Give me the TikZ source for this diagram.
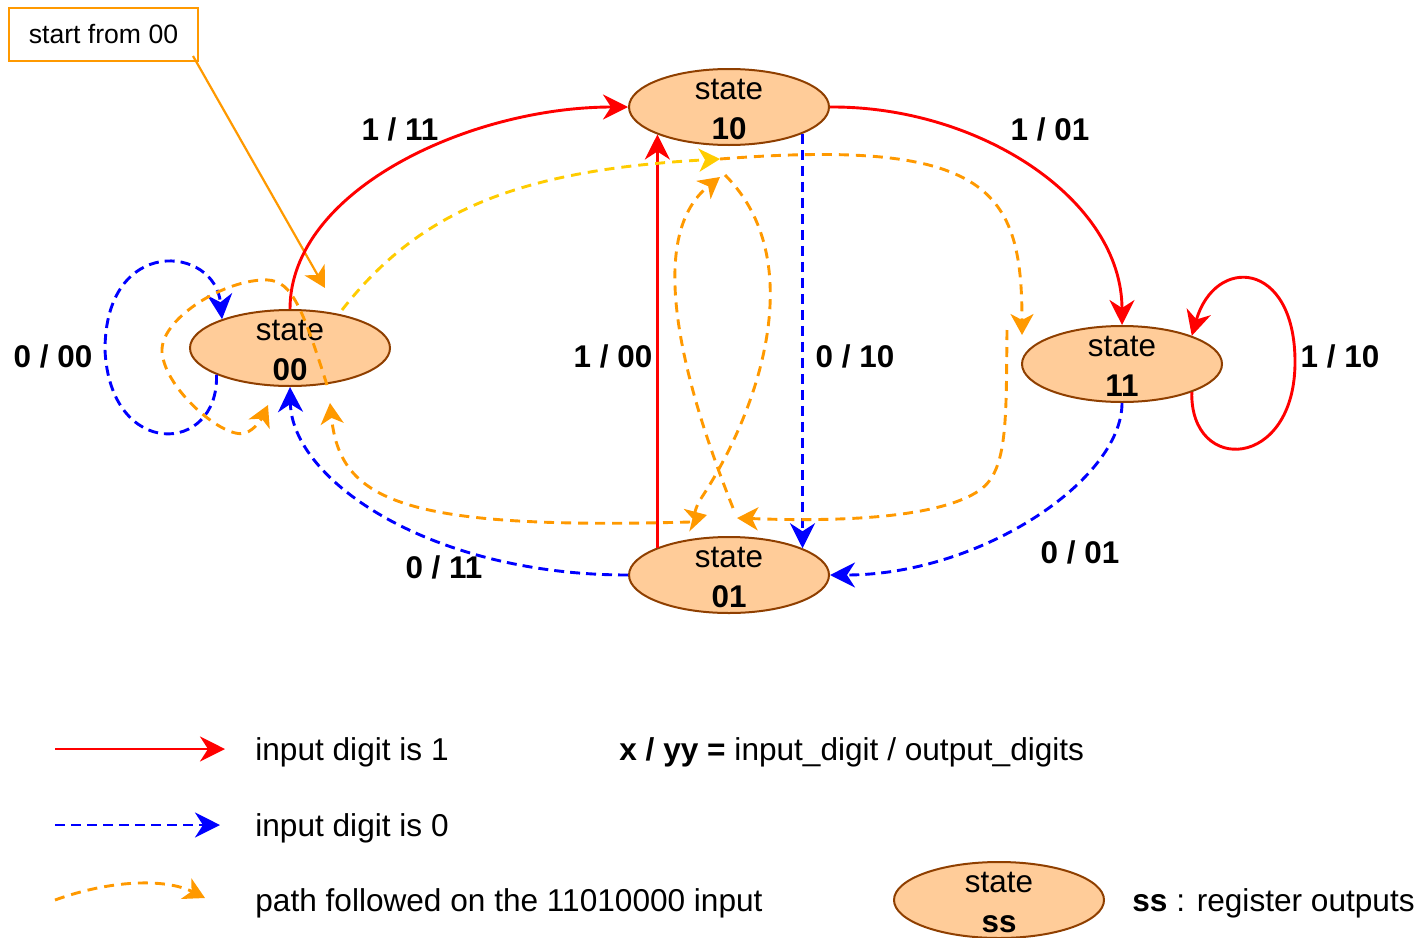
\documentclass[tikz,border=0pt]{standalone}
\usepackage{fontspec}
\setmainfont{Liberation Sans}
\usetikzlibrary{arrows.meta,shapes.geometric,calc}
\definecolor{stfill}{HTML}{FFCC99}
\definecolor{stline}{HTML}{8F3F00}
\definecolor{pathor}{HTML}{FF9900}
\definecolor{pathyel}{HTML}{FFCC00}

\begin{document}
\begin{tikzpicture}[x=0.5pt,y=-0.5pt,
  state/.style={ellipse,draw=stline,fill=stfill,line width=1pt,
    minimum width=100pt,minimum height=38pt,inner sep=0pt},
  sttext/.style={align=center,inner sep=0pt,yshift=-1pt,
    font=\fontsize{15.7}{20}\selectfont},
  lbl/.style={inner sep=0pt,font=\fontsize{15.7}{19}\selectfont\bfseries},
  legtxt/.style={anchor=base west,inner sep=0pt,
    font=\fontsize{15.8}{19}\selectfont},
  tipbig/.style={-{Stealth[length=12.5pt,width=12.5pt,inset=4pt]}},
  tipsmall/.style={-{Stealth[length=10.5pt,width=11.5pt,inset=3pt]}},
  one/.style={red,line width=1.45pt,tipbig},
  zero/.style={blue,line width=1.45pt,dash pattern=on 5pt off 3pt,tipbig},
  trace/.style={pathor,line width=1.45pt,dash pattern=on 5pt off 3.5pt,tipsmall},
  firstleg/.style={pathyel,line width=1.45pt,dash pattern=on 5pt off 3.5pt,tipsmall},
]
\useasboundingbox (0,0) rectangle (1422,937);

% states
\node[state] (s00) at (290,348) {};
\node[state] (s10) at (729,107) {};
\node[state] (s01) at (729,575) {};
\node[state] (s11) at (1122,364) {};
\node[sttext] (t00) at (s00) {state\\\textbf{00}};
\node[sttext] (t10) at (s10) {state\\\textbf{10}};
\node[sttext] (t01) at (s01) {state\\\textbf{01}};
\node[sttext] (t11) at (s11) {state\\\textbf{11}};

% initial state note
\node[draw=pathor,line width=1pt,minimum width=94.5pt,minimum height=26.5pt,
  inner sep=0pt,font=\fontsize{13.3}{16}\selectfont] (start) at (103.5,34.5) {start from 00};
\coordinate (startend) at (325,288);
\draw[pathor,line width=1.1pt,tipsmall] ($(start.south east)+(-6,-6)$) -- (startend);

% transitions on input 1
\draw[one] (s00.north) .. controls (290,190) and (470,107) .. (s10.west);
\draw[one] (s10.east) .. controls (980,106) and (1122,200) .. (s11.north);
\draw[one] (s01.159) -- (s10.201);
\draw[one] (s11.338.5) .. controls (1190,475) and (1295,470) .. (1295,362)
  .. controls (1295,260) and (1215,255) .. (s11.22);

% transitions on input 0
\draw[zero] (s10.340) -- (s01.20);
\draw[zero] (s11.south) .. controls (1122,480) and (980,575) .. (s01.east);
\draw[zero] (s01.west) .. controls (430,575) and (292,480) .. (s00.south);
\draw[zero] (s00.200.8) .. controls (219,455) and (110,460) .. (105,350)
  .. controls (105,235) and (215,245) .. (s00.157.4);

% edge labels
\node[lbl] (l1) at (400,129) {1 / 11};
\node[lbl] (l2) at (1050,129) {1 / 01};
\node[lbl] (l3) at (53,356) {0 / 00};
\node[lbl] (l4) at (613,356) {1 / 00};
\node[lbl] (l5) at (855,356) {0 / 10};
\node[lbl] (l6) at (1340,356) {1 / 10};
\node[lbl] (l7) at (444,567) {0 / 11};
\node[lbl] (l8) at (1080,552) {0 / 01};

% path taken for the input 11010000
\coordinate (a0) at (342,310);
\coordinate (a1) at (720,159);
\coordinate (a2) at (1022,335);
\coordinate (a3) at (1007,330);
\coordinate (a4) at (737,518);
\coordinate (a5) at (733,508);
\coordinate (a6) at (720,177);
\coordinate (a7) at (725,175);
\coordinate (a8) at (707,515);
\coordinate (a9) at (690,522);
\coordinate (a10) at (330,403);
\coordinate (a11) at (327,385);
\coordinate (a12) at (268,405);
\draw[firstleg] (a0) .. controls (420,210) and (520,170) .. (a1);
\draw[trace] (a1) .. controls (990,138) and (1022,190) .. (a2);
\draw[trace] (a3) .. controls (1006,420) and (1008,470) .. (980,490)
  .. controls (940,518) and (840,522) .. (a4);
\draw[trace] (a5) .. controls (690,400) and (640,240) .. (a6);
\draw[trace] (a7) .. controls (810,260) and (760,410) .. (700,500)
  .. controls (693,512) and (695,518) .. (a8);
\draw[trace] (a9) .. controls (400,530) and (340,500) .. (a10);
\draw[trace] (a11) .. controls (300,300) and (290,278) .. (262,280)
  .. controls (220,282) and (160,320) .. (162,352)
  .. controls (165,390) and (225,440) .. (245,433)
  .. controls (255,430) and (262,418) .. (a12);

% legend
\coordinate (k1a) at (55,749);
\coordinate (k1b) at (225,749);
\coordinate (k2a) at (55,825);
\coordinate (k2b) at (220,825);
\coordinate (k3a) at (55,900);
\coordinate (k3b) at (205,898);
\draw[one] (k1a) -- (k1b);
\draw[zero] (k2a) -- (k2b);
\draw[trace] (k3a) .. controls (110,880) and (165,878) .. (k3b);
\node[legtxt] (g1) at (255,760) {input digit is 1};
\node[legtxt] (g2) at (255,836) {input digit is 0};
\node[legtxt] (g3) at (255,911) {path followed on the 11010000 input};
\node[legtxt] (g4) at (619,760) {\textbf{x / yy =} input\_digit / output\_digits};
\node[state,minimum width=105pt] (sss) at (999,900) {};
\node[sttext] (tss) at (sss) {state\\\textbf{ss}};
\node[legtxt] (g5) at (1132,911) {\textbf{ss} : register outputs};
\end{tikzpicture}
\end{document}
